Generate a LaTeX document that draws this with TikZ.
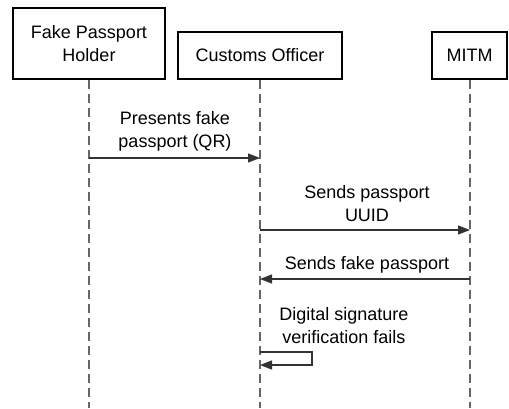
\documentclass[tikz,border=0pt]{standalone}
\usepackage{fontspec}
\setmainfont{Liberation Sans}
\usetikzlibrary{arrows.meta}
\begin{document}
\begin{tikzpicture}[x=1pt,y=-1pt,
  actor/.style={draw=black,line width=1.6pt,fill=white,inner sep=0pt,font=\fontsize{18}{23}\selectfont,align=center},
  lifeline/.style={draw=black!60,line width=1.2pt,dash pattern=on 9pt off 5pt},
  msg/.style={draw=black!80,line width=1.2pt,-{Triangle[length=12pt,width=9pt]}},
  lbl/.style={font=\fontsize{18}{23}\selectfont,align=center,inner sep=0pt}]
\useasboundingbox (0,0) rectangle (509,408);
\fill[white] (0,0) rectangle (509,408);
% lifeline ends
\coordinate (b1) at (89,408);
\coordinate (b2) at (260,408);
\coordinate (b3) at (470,408);
% actors
\node[actor,minimum width=152pt,minimum height=71pt] (a1) at (89,43.5) {Fake Passport\\Holder};
\node[actor,minimum width=164pt,minimum height=47pt] (a2) at (260,55.5) {Customs Officer};
\node[actor,minimum width=75pt,minimum height=47pt] (a3) at (469.5,55.5) {MITM};
% lifelines
\draw[lifeline] (a1.south) -- (b1);
\draw[lifeline] (a2.south) -- (b2);
\draw[lifeline] (a3.south -| b3) -- (b3);
% message points
\coordinate (m1s) at (89,158);
\coordinate (m1e) at (260,158);
\coordinate (m2s) at (260,230);
\coordinate (m2e) at (470,230);
\coordinate (m3s) at (470,279);
\coordinate (m3e) at (260,279);
\coordinate (s1) at (260,352);
\coordinate (s2) at (312,352);
\coordinate (s3) at (312,365);
\coordinate (s4) at (260,365);
\draw[msg] (m1s) -- (m1e);
\draw[msg] (m2s) -- (m2e);
\draw[msg] (m3s) -- (m3e);
\draw[msg] (s1) -- (s2) -- (s3) -- (s4);
% labels
\node[lbl] (l1) at (175,131.5) {Presents fake\\passport (QR)};
\node[lbl] (l2) at (367,203.5) {Sends passport\\UUID};
\node[lbl] (l3) at (367,265) {Sends fake passport};
\node[lbl] (l4) at (344,325.5) {Digital signature\\verification fails};
\end{tikzpicture}
\end{document}
